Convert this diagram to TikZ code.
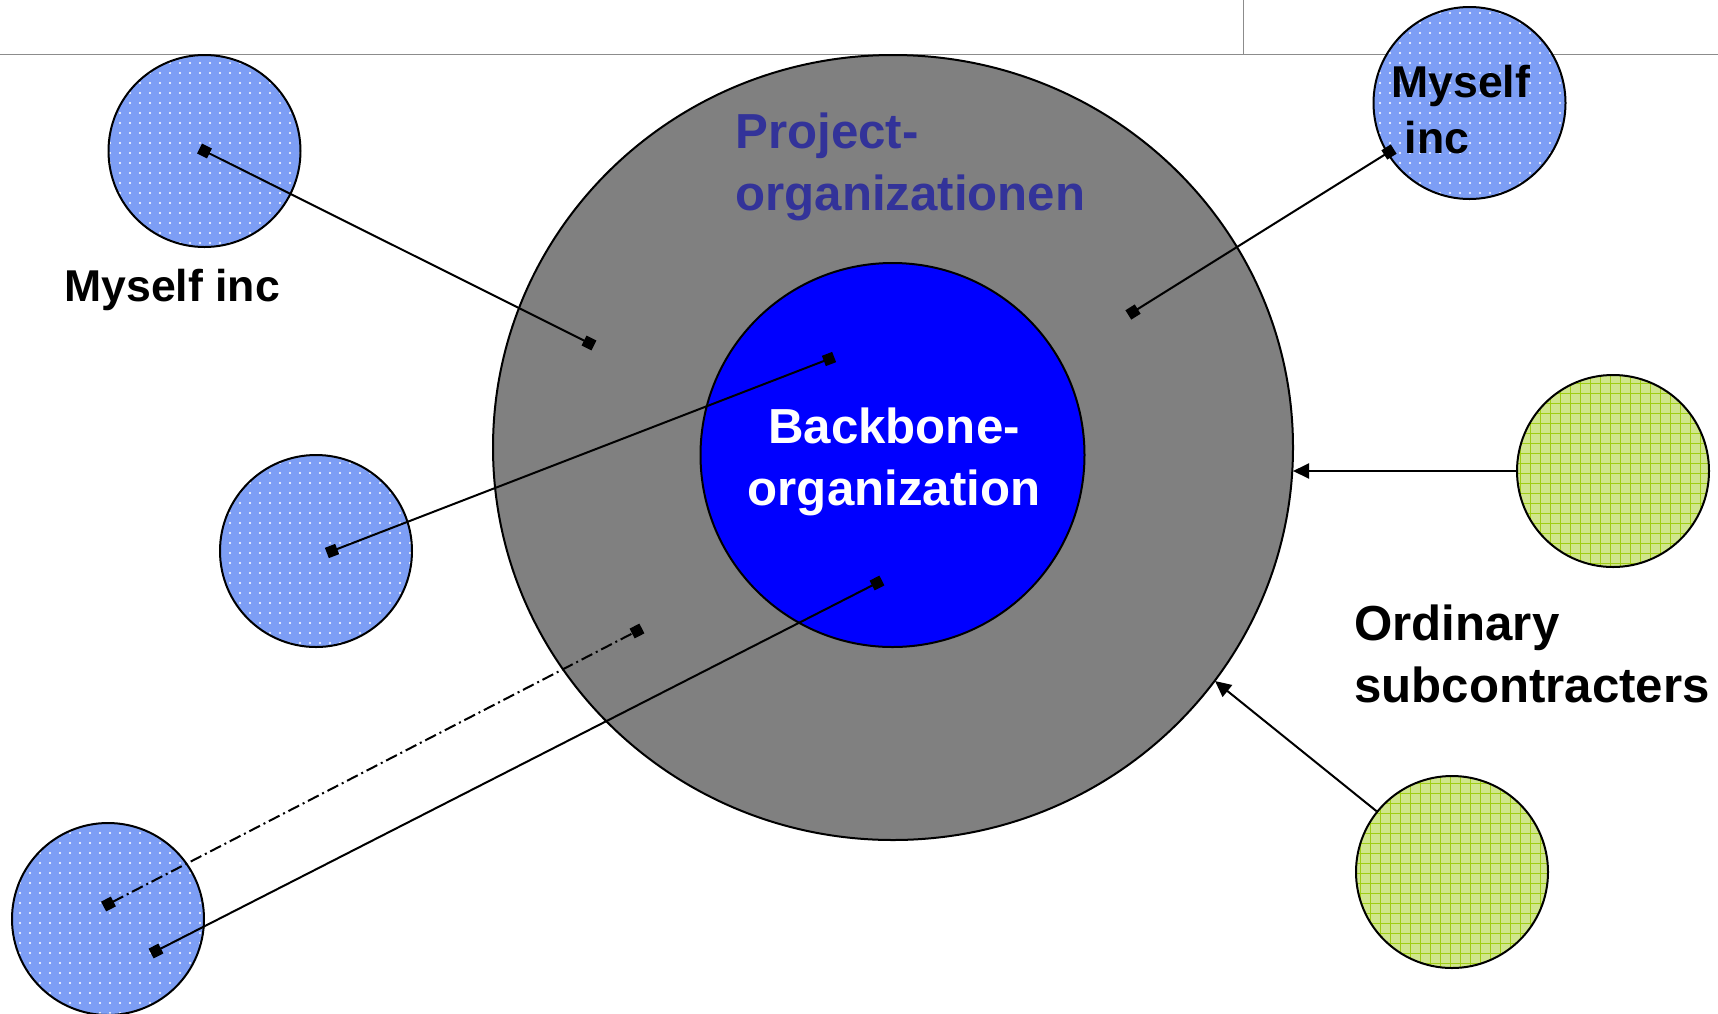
\documentclass[tikz,border=0pt]{standalone}
\usepackage{fontspec}
\setmainfont{Liberation Sans}
\usetikzlibrary{shapes.geometric,arrows.meta,patterns.meta}

\definecolor{ringgray}{RGB}{128,128,128}
\definecolor{coreblue}{RGB}{0,0,255}
\definecolor{projtext}{RGB}{51,51,153}
\definecolor{selfblue}{RGB}{125,158,245}
\definecolor{subgreen}{RGB}{208,230,140}
\definecolor{subgrid}{RGB}{160,205,20}
\definecolor{rulegray}{RGB}{140,140,140}

\begin{document}
\begin{tikzpicture}[x=0.5pt,y=-0.5pt,
  outline/.style={draw=black,line width=1pt},
  selfcircle/.style={circle,outline,minimum size=96pt,inner sep=0pt,
    preaction={fill=selfblue},pattern={Dots[distance=5pt,radius=0.6pt]},pattern color=white},
  subcircle/.style={circle,outline,minimum size=96pt,inner sep=0pt,
    preaction={fill=subgreen},pattern={Hatch[angle=0,distance=5pt,line width=0.4pt]},pattern color=subgrid},
  tie/.style={line width=1pt,{Square[length=5.5pt,width=5.5pt]}-{Square[length=5.5pt,width=5.5pt]},
    shorten <=-2.75pt,shorten >=-2.75pt},
  loosetie/.style={tie,dash pattern=on 6pt off 2pt on 1pt off 2pt},
  feed/.style={line width=1pt,-{Triangle[length=8pt,width=7.5pt]}},
  bigtext/.style={font=\bfseries\fontsize{24.6}{31}\selectfont,inner sep=0pt},
  smalltext/.style={font=\bfseries\fontsize{22.3}{28}\selectfont,inner sep=0pt}
]
\useasboundingbox (0,0) rectangle (1718,1013);

% header rules
\draw[rulegray,line width=0.9pt] (0,54.5) -- (1718,54.5);
\draw[rulegray,line width=0.5pt] (1243,0) -- (1243,54.5);

% organisation rings
\node[ellipse,outline,fill=ringgray,minimum width=400pt,minimum height=392.5pt,inner sep=0pt]
  (project) at (893,447.5) {};
\node[circle,outline,fill=coreblue,minimum size=192pt,inner sep=0pt]
  (backbone) at (892.5,455) {};

% individual contractors
\node[selfcircle] (selfA) at (204.5,151) {};
\node[selfcircle] (selfB) at (316,551) {};
\node[selfcircle] (selfC) at (108,919) {};
\node[selfcircle] (selfD) at (1469.5,103) {};

% ordinary subcontractors
\node[subcircle] (subA) at (1613,471) {};
\node[subcircle] (subB) at (1452,872) {};

% link end points
\coordinate (pA) at (589,343);
\coordinate (sB) at (332,551);
\coordinate (bB) at (829,359);
\coordinate (sCd) at (108.5,904);
\coordinate (pC) at (637,631);
\coordinate (sCs) at (156,951);
\coordinate (bC) at (877,583);
\coordinate (sD) at (1389,152);
\coordinate (pD) at (1133,312);
\coordinate (pE) at (1293,471);
\coordinate (pF) at (1215,681);

% links
\draw[tie] (selfA.center) -- (pA);
\draw[tie] (sB) -- (bB);
\draw[loosetie] (sCd) -- (pC);
\draw[tie] (sCs) -- (bC);
\draw[tie] (sD) -- (pD);
\draw[feed] (subA) -- (pE);
\draw[feed] (subB) -- (pF);

% labels (base anchor sits on the last line)
\node[bigtext,text=projtext,align=left,anchor=base west] (projlabel) at (735,210) {Project-\\organizationen};
\node[bigtext,text=white,align=center,anchor=base] (corelabel) at (894,505) {Backbone-\\organization};
\node[smalltext,anchor=base west] (selfAlabel) at (64,301) {Myself inc};
\node[smalltext,align=left,anchor=base west] (selfDlabel) at (1391,153) {Myself\\\hspace*{0.3em}inc};
\node[bigtext,align=left,anchor=base west] (sublabel) at (1354,702) {Ordinary\\subcontracters};
\end{tikzpicture}
\end{document}
